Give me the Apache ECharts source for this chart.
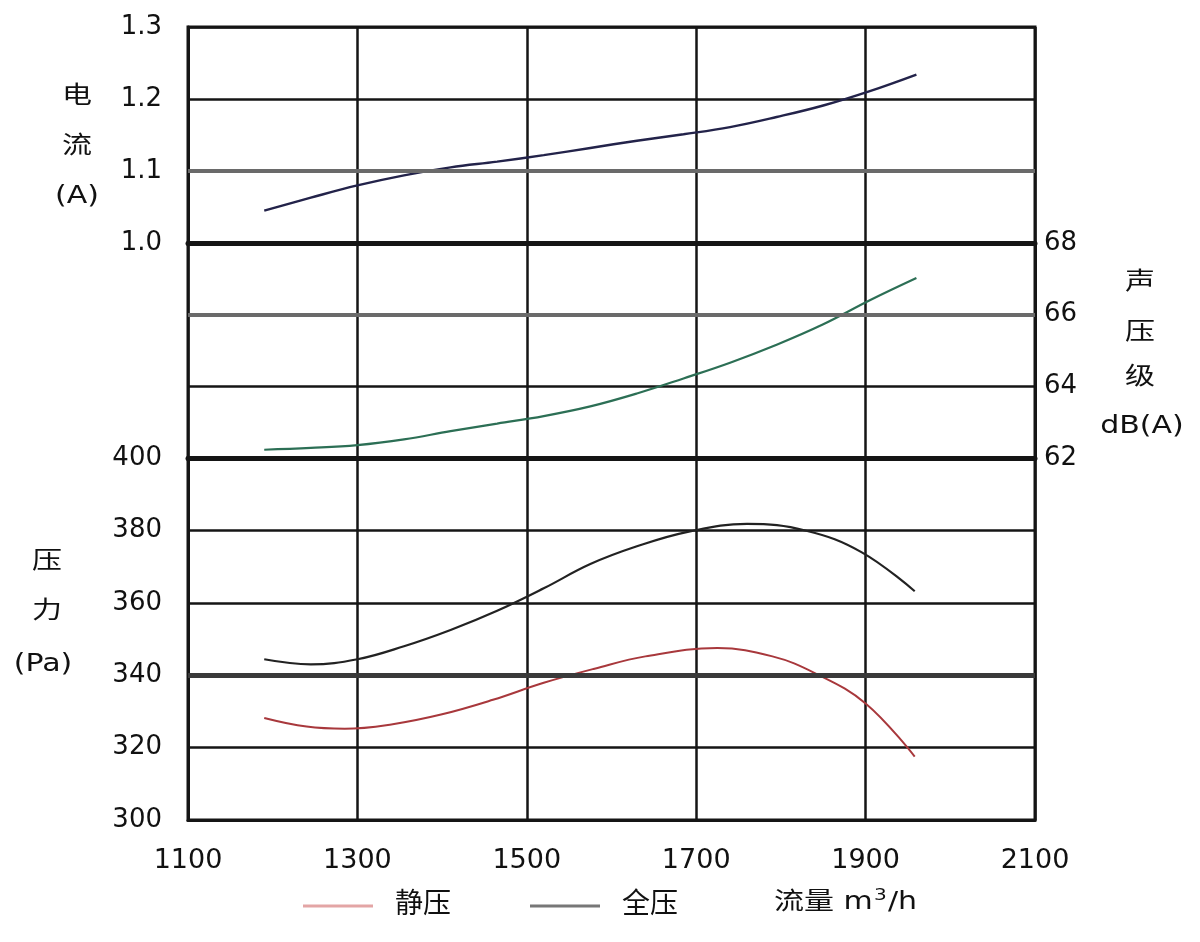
<!DOCTYPE html>
<html><head><meta charset="utf-8">
<script src="https://cdn.jsdelivr.net/npm/echarts@6/dist/echarts.min.js"></script>
<style>html,body{margin:0;padding:0;background:#fff}#c{width:1200px;height:942px}</style>
</head><body><div id="c"></div>
<script>
// ---- data ----
const flow = [1190, 1245, 1300, 1355, 1410, 1465, 1520, 1575, 1630, 1685, 1740, 1795, 1850, 1905, 1960];
const current = [1.045, 1.063, 1.080, 1.094, 1.105, 1.113, 1.122, 1.132, 1.142, 1.151, 1.161, 1.175, 1.191, 1.211, 1.234];
const noise = [62.23, 62.28, 62.36, 62.52, 62.75, 62.96, 63.17, 63.44, 63.80, 64.22, 64.66, 65.16, 65.73, 66.40, 67.02];
const flowTotal = [1190, 1245, 1300, 1355, 1410, 1465, 1520, 1575, 1630, 1690, 1760, 1830, 1895, 1958];
const totalPressure = [344.4, 343.0, 344.4, 348.0, 352.5, 357.8, 364.0, 370.7, 375.6, 379.6, 381.8, 379.9, 374.0, 363.2];
const flowStatic = [1190, 1240, 1285, 1340, 1400, 1460, 1520, 1580, 1640, 1725, 1790, 1840, 1900, 1958];
const staticPressure = [328.2, 325.8, 325.2, 326.4, 329.2, 333.2, 337.9, 341.8, 345.2, 347.5, 345.2, 340.6, 332.2, 317.5];

const zip = (xs, ys) => xs.map((x, i) => [x, ys[i]]);
const FONT = 'DejaVu Sans, Noto Sans CJK SC, sans-serif';
const DARK = '#151515';
const TXT = '#111';

const gridBase = { left: 188, width: 847, show: true, borderColor: DARK, borderWidth: 3, backgroundColor: 'transparent' };
const grids = [
  Object.assign({ top: 27, height: 216 }, gridBase),
  Object.assign({ top: 243, height: 215 }, gridBase),
  Object.assign({ top: 458, height: 362 }, gridBase)
];
const xAxes = [0, 1, 2].map(i => ({
  type: 'value', gridIndex: i, min: 1100, max: 2100, interval: 200,
  axisLine: { show: true, lineStyle: { color: DARK, width: i < 2 ? 5 : 3 } },
  axisTick: { show: false },
  splitLine: { show: true, lineStyle: { color: DARK, width: 2.5 } },
  axisLabel: { show: i === 2, margin: 27, fontSize: 27, color: TXT, fontFamily: FONT, formatter: v => String(v) }
}));
const yLabel = { fontSize: 26, color: TXT, fontFamily: FONT };
const yAxes = [
  { type: 'value', gridIndex: 0, min: 1.0, max: 1.3, interval: 0.1, position: 'left',
    axisLine: { show: true, lineStyle: { color: DARK, width: 3 } }, axisTick: { show: false },
    splitLine: { show: true, lineStyle: { color: DARK, width: 2.5 } },
    axisLabel: Object.assign({ margin: 26, formatter: v => v.toFixed(1) }, yLabel) },
  { type: 'value', gridIndex: 1, min: 62, max: 68, interval: 2, position: 'right',
    axisLine: { show: true, lineStyle: { color: DARK, width: 3 } }, axisTick: { show: false },
    splitLine: { show: true, lineStyle: { color: DARK, width: 2.5 } },
    axisLabel: Object.assign({ margin: 9 }, yLabel) },
  { type: 'value', gridIndex: 2, min: 300, max: 400, interval: 20, position: 'left',
    axisLine: { show: true, lineStyle: { color: DARK, width: 3 } }, axisTick: { show: false },
    splitLine: { show: true, lineStyle: { color: DARK, width: 2.5 } },
    axisLabel: Object.assign({ margin: 26 }, yLabel) }
];
const ml = (val, color, width) => ({
  silent: true, symbol: 'none', label: { show: false },
  lineStyle: { color: color, width: width, type: 'solid' },
  data: [{ yAxis: val }]
});

const labels = [
  ['电', 77, 97], ['流', 77, 147], ['(A)', 77, 197],
  ['声', 1140, 283], ['压', 1140, 333], ['级', 1140, 378], ['dB(A)', 1142, 427],
  ['压', 47, 562], ['力', 47, 612], ['(Pa)', 43, 665]
];

const option = {
  animation: false,
  grid: grids, xAxis: xAxes, yAxis: yAxes,
  legend: {
    left: 298, top: 887, itemWidth: 70, itemHeight: 3, itemGap: 79, icon: 'rect',
    textStyle: { fontSize: 28, fontFamily: FONT, color: TXT, padding: [0, 0, 0, 17] },
    data: [
      { name: '静压', itemStyle: { color: '#e3a5a5' } },
      { name: '全压', itemStyle: { color: '#777' } }
    ]
  },
  series: [
    { name: '电流', type: 'line', xAxisIndex: 0, yAxisIndex: 0, smooth: 0.4, symbol: 'none',
      lineStyle: { color: '#23234a', width: 2.4 }, data: zip(flow, current),
      markLine: ml(1.1, '#6a6a6a', 4), z: 3 },
    { name: '声压级', type: 'line', xAxisIndex: 1, yAxisIndex: 1, smooth: 0.4, symbol: 'none',
      lineStyle: { color: '#2c6f55', width: 2.2 }, data: zip(flow, noise),
      markLine: ml(66, '#6a6a6a', 4), z: 3 },
    { name: '全压', type: 'line', xAxisIndex: 2, yAxisIndex: 2, smooth: 0.4, symbol: 'none',
      lineStyle: { color: '#222', width: 2.2 }, data: zip(flowTotal, totalPressure),
      markLine: ml(340, '#3a3a3a', 5), z: 3 },
    { name: '静压', type: 'line', xAxisIndex: 2, yAxisIndex: 2, smooth: 0.4, symbol: 'none',
      lineStyle: { color: '#a8383c', width: 2 }, data: zip(flowStatic, staticPressure), z: 4 }
  ],
  graphic: labels.map(([t, x, y]) => ({
    type: 'text', x: x, y: y, scaleX: 1.25, originX: 0, originY: 0,
    style: { text: t, fontSize: 24, fontFamily: FONT, fill: TXT, align: 'center', verticalAlign: 'middle' }
  })).concat([{
    type: 'text', x: 774, y: 903, scaleX: 1.25,
    style: {
      text: '{a|流量 m}{s|3}{a|/h}', fontSize: 24, fontFamily: FONT, fill: TXT, align: 'left', verticalAlign: 'middle',
      rich: {
        a: { fontSize: 24, fontFamily: FONT, fill: TXT, color: TXT, lineHeight: 30 },
        s: { fontSize: 16, fontFamily: FONT, fill: TXT, color: TXT, verticalAlign: 'top', lineHeight: 30, padding: [0, 1, 10, 1] }
      }
    }
  }])
};
echarts.init(document.getElementById('c')).setOption(option);
</script></body></html>
